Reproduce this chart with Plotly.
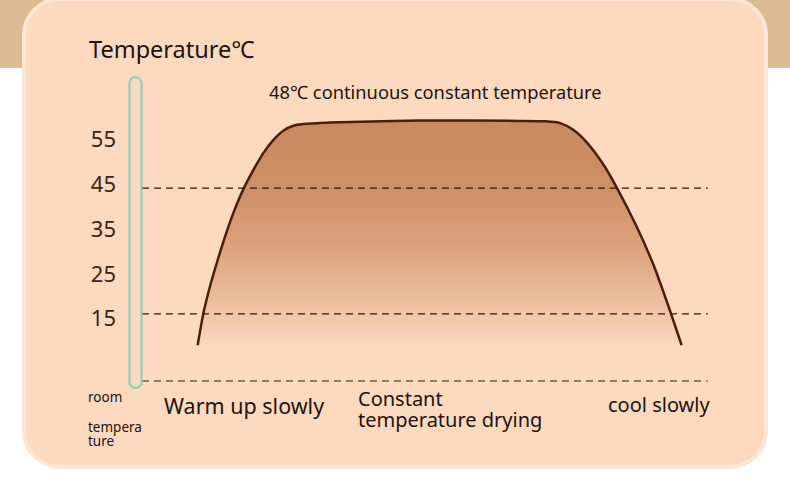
import plotly.graph_objects as go

W, H = 790, 501

# process time (arbitrary units) and temperature along the drying curve
time_pts = [0, 1.16, 2.54, 3.93, 5.64, 7.36, 9.42, 11.49, 13.56, 15.62, 17.69, 19.76, 21.82,
            25.27, 29.4, 45.9, 66.6, 71.8, 74.9, 77.6, 80.4, 83.8, 86.6, 90.7, 94.2, 97.6, 100]
temp_pts = [9.1, 16.1, 22.2, 27.4, 33.3, 38.6, 43.9, 48.2, 52.0, 54.9, 57.0, 58.1, 58.5,
            58.7, 58.9, 59.3, 59.2, 59.1, 58.7, 57.2, 54.4, 49.5, 44.3, 35.6, 27.0, 16.8, 9.1]
temp_ticks = [15, 25, 35, 45, 55]
ref_levels = [44.2, 16.1, 1.1]
ref_span = [-11.5, 105.4]

phase_labels = ["Warm up slowly", "Constant", "temperature drying", "cool slowly"]

INK = "#1e130d"
FONT = "Noto Sans"


def px(x):
    return x / W


def py(y):
    return 1 - y / H


def rr_path(x0, y0, x1, y1, r):
    k = 0.5523 * r
    pts = [
        ("M", [(x0 + r, y0)]),
        ("L", [(x1 - r, y0)]),
        ("C", [(x1 - r + k, y0), (x1, y0 + r - k), (x1, y0 + r)]),
        ("L", [(x1, y1 - r)]),
        ("C", [(x1, y1 - r + k), (x1 - r + k, y1), (x1 - r, y1)]),
        ("L", [(x0 + r, y1)]),
        ("C", [(x0 + r - k, y1), (x0, y1 - r + k), (x0, y1 - r)]),
        ("L", [(x0, y0 + r)]),
        ("C", [(x0, y0 + r - k), (x0 + r - k, y0), (x0 + r, y0)]),
    ]
    s = ""
    for cmd, coords in pts:
        s += cmd + " ".join(f"{px(a):.5f},{py(b):.5f}" for a, b in coords) + " "
    return s + "Z"


fig = go.Figure()

fig.add_trace(go.Scatter(
    x=[time_pts[0], time_pts[-1]], y=[temp_pts[0], temp_pts[-1]],
    mode="lines", line=dict(width=0, color="rgba(0,0,0,0)"),
    hoverinfo="skip", showlegend=False,
))
fig.add_trace(go.Scatter(
    x=time_pts, y=temp_pts, mode="lines", fill="tonexty",
    fillgradient=dict(
        type="vertical", start=min(temp_pts), stop=max(temp_pts),
        colorscale=[[0, "#fbd7be"], [0.2, "#edbd9c"], [0.45, "#dba17b"],
                    [0.7, "#cd8f67"], [1, "#c98a60"]],
    ),
    line=dict(color="#4b1e0b", width=2.5, shape="spline", smoothing=0.6),
    hoverinfo="skip", showlegend=False,
))
for lvl in ref_levels:
    fig.add_trace(go.Scatter(
        x=ref_span, y=[lvl, lvl], mode="lines",
        line=dict(color="#2a1b12", width=1.2, dash="7px,5px"),
        hoverinfo="skip", showlegend=False,
    ))

shapes = [
    dict(type="rect", xref="paper", yref="paper", x0=0, x1=1, y0=py(68), y1=1,
         fillcolor="#dcbd93", line=dict(width=0), layer="below"),
    dict(type="path", xref="paper", yref="paper", path=rr_path(24, -1, 766, 467, 36),
         fillcolor="#fdd9c0", line=dict(color="#fee6d6", width=4), layer="below"),
    dict(type="path", xref="paper", yref="paper", path=rr_path(129.5, 77, 141.5, 388, 6),
         fillcolor="rgba(0,0,0,0)", line=dict(color="#7fd3bd", width=2), layer="above"),
]


def txt(text, x, y, size, anchor="left"):
    return dict(text=text, x=px(x), y=py(y), xref="paper", yref="paper",
                xanchor=anchor, yanchor="middle", showarrow=False,
                font=dict(family=FONT, size=size, color=INK))


annotations = [
    txt("Temperature℃", 87, 49, 23.5),
    txt("48℃ continuous constant temperature", 435, 91, 18.3, "center"),
    txt("room", 86, 397, 13.5),
    txt("tempera", 86, 427, 13.5),
    txt("ture", 86, 441, 13.5),
    txt(phase_labels[0], 162, 405, 21.5),
    txt(phase_labels[1], 356, 398, 20),
    txt(phase_labels[2], 356, 419, 20),
    txt(phase_labels[3], 712, 404, 20, "right"),
]

fig.update_layout(
    width=W, height=H,
    margin=dict(l=0, r=0, t=0, b=0),
    paper_bgcolor="#ffffff",
    plot_bgcolor="rgba(0,0,0,0)",
    shapes=shapes,
    annotations=annotations,
    xaxis=dict(range=[-40.85, 122.4], visible=False, fixedrange=True),
    yaxis=dict(
        range=[-25.7, 86.2], anchor="free", position=116 / W,
        tickvals=temp_ticks, ticktext=[str(t) for t in temp_ticks],
        showgrid=False, zeroline=False, showline=False, ticks="",
        tickfont=dict(family=FONT, size=22, color="#3b2518"),
        fixedrange=True,
    ),
)

fig.write_html("out.html", config={"displayModeBar": False},
               post_script="document.body.style.margin='0';")
